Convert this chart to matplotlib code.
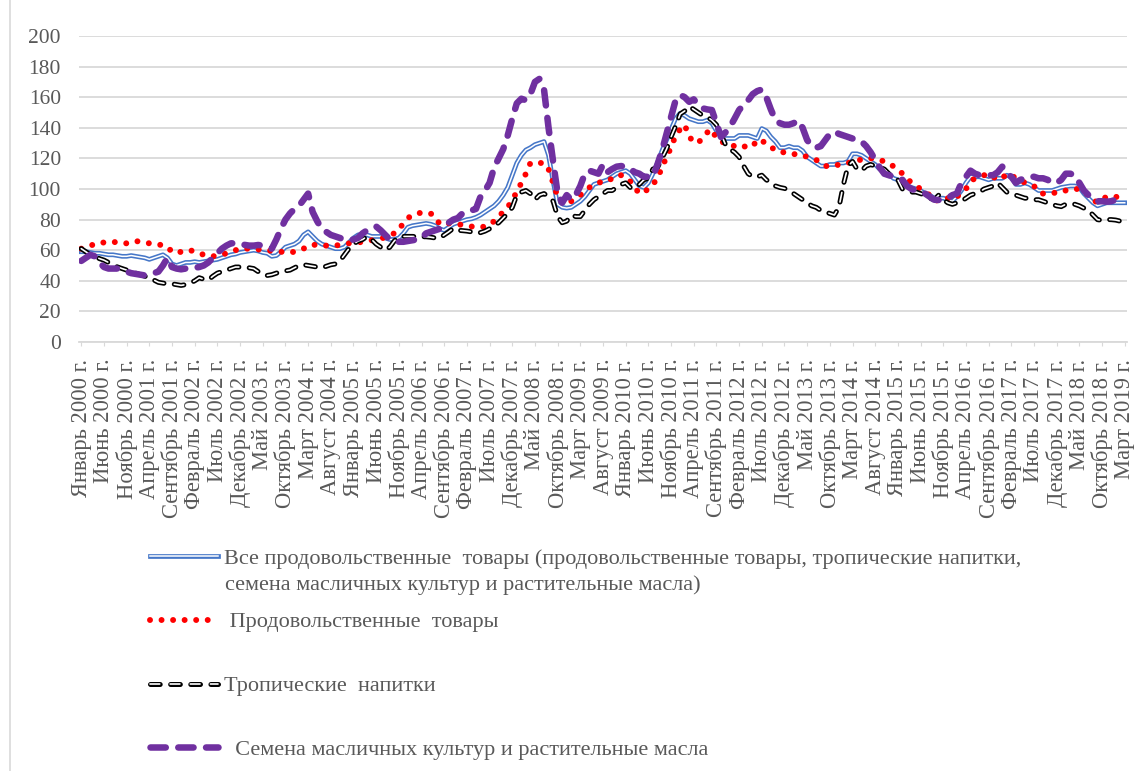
import matplotlib
matplotlib.use("Agg")
from matplotlib import pyplot as plt
import numpy as np

plt.rcParams['font.family'] = ['Liberation Serif', 'DejaVu Serif']
plt.rcParams['lines.scale_dashes'] = False

# monthly index values, Jan 2000 .. Mar 2019
all_food = [
	59, 59, 58.5, 58, 58, 57.5, 57, 57, 56.5, 56, 56, 56.5,
	56, 55.5, 55, 54, 55, 56, 57, 55, 51, 50, 51, 52,
	52, 52.5, 52, 52.5, 53, 53.5, 54, 55, 56, 57, 57.5, 58.5,
	59, 59.5, 60, 59.5, 58.5, 58, 56, 56.5, 59, 62, 63, 64,
	66, 70, 72, 69, 66, 64, 63, 62, 61, 61, 62, 65,
	68, 70, 70.5, 70, 69, 69, 69, 68, 67, 67, 68, 71,
	75, 76, 76.5, 77, 77.5, 77, 76, 74, 73, 75, 77, 78,
	79, 80, 80.5, 81.5, 83, 85, 87, 89, 92, 96, 101, 109,
	117, 122, 125.5, 127, 129, 130, 131, 122, 105, 90, 88, 87.5,
	88, 90, 92, 95, 99, 103, 104, 105, 106, 108, 110, 111,
	112, 110, 106, 102, 101, 104, 110, 117, 125, 132, 139, 146,
	149.5, 148, 146, 145, 144, 144, 145, 143, 138, 135, 133, 133,
	133, 135, 135, 135, 134, 133, 139.5, 138, 134, 131, 127, 127,
	128, 127, 127, 125, 121, 119, 117, 115, 115, 116, 116, 117,
	117, 118, 123, 123, 122, 120, 118, 116, 113, 112, 110, 107,
	106, 104, 102, 101, 100, 99, 97, 96, 94, 94, 94, 93,
	92, 95, 99, 104, 108, 108, 108, 107, 106, 107, 107, 107,
	109, 108, 103, 103, 104, 103, 101, 99, 99, 99, 99, 100,
	101, 101.5, 102, 102, 101, 97, 94, 91, 89, 90, 91, 91,
	91, 91, 91,
]
food = [
	61, 62, 63, 64, 65, 65, 65.5, 65.5, 65, 64.5, 64.5, 65,
	66, 65.5, 65, 64.5, 64, 63.5, 63.5, 62, 59, 58, 59, 60,
	60, 59, 58, 57, 56, 56, 56.5, 57, 58, 59, 60, 61,
	61, 61, 60.5, 60.5, 60, 60, 59.5, 59, 59, 58.5, 58.5, 59,
	60, 61, 63, 63.5, 63.5, 63, 63, 62.5, 63, 63.5, 64, 64.5,
	65, 65, 65.5, 66, 66.5, 67, 67.5, 68.5, 70, 71, 73, 78,
	81, 83, 84, 84.5, 84.5, 84, 82, 77, 77, 77.5, 77.5, 77,
	76.5, 76, 75.5, 75, 75, 75.5, 76.5, 79, 82, 85, 88, 93,
	98, 104, 110, 117, 117, 117, 117, 113, 104, 95, 91, 90,
	92, 94, 96, 99, 101, 103, 104, 105, 105, 107, 109, 109,
	108, 105, 101, 97, 98, 100, 103, 107, 114, 121, 127, 135,
	139, 142, 134, 131, 130, 134, 137, 139, 133, 131, 130, 129,
	128, 129, 128, 127, 128, 132, 132, 129, 127, 126, 124, 124,
	123, 123, 122, 122, 121, 120, 119, 117, 115, 115, 115, 116,
	117, 117, 118, 119, 119, 120, 120, 120, 119, 118, 116, 115,
	113, 110, 107, 104, 102, 100, 98, 96, 92, 93, 94, 94,
	93, 95, 97, 100, 105, 107, 108, 109, 110, 108, 106, 107,
	110, 109, 107, 106, 104, 103, 102, 98, 97, 97, 97, 98,
	99, 99, 100, 100, 100, 98, 96, 93, 91, 93, 95, 95,
	95, 94, 93,
]
beverages = [
	61, 59, 57, 56, 54.5, 53.5, 52, 50.5, 49, 48, 47, 46.5,
	45, 44, 43, 42, 40.5, 39, 38.5, 38, 38, 37.5, 37, 37.5,
	38.5, 40, 42, 41, 40.5, 43, 45, 46, 47, 48, 49, 49,
	49, 48.5, 48, 46, 44, 43.5, 44, 45, 46, 46.5, 47, 48.5,
	50, 50.5, 50, 49.5, 49, 48.5, 49.5, 50.5, 51, 53, 57, 61,
	64, 66, 67, 69, 67, 64, 62, 60, 62, 66, 69, 69,
	69, 69, 68.8, 68.8, 68.8, 68.5, 68, 67.8, 70, 72, 74.3, 73,
	72.8, 72.5, 72, 71, 71.5, 72.5, 74, 76, 78, 81, 84, 88,
	96, 98, 99, 97, 93, 96, 97, 95, 92, 82, 78, 79,
	83, 82, 82, 86, 90, 93, 95, 97, 99, 99, 101, 103,
	104, 101, 100.5, 103, 106, 107, 113, 114, 120, 126, 134, 141,
	149, 151, 154, 152, 150, 148, 147, 145, 142, 136, 129, 126,
	124, 121, 115, 110, 108, 108, 109, 106, 104, 102, 101, 100.4,
	99, 97, 95, 93, 91, 89, 88, 86, 85, 84, 83, 88,
	103, 115, 118, 113, 112, 115, 116, 115, 114, 113, 110, 107,
	106, 100, 99, 98, 98, 97, 96, 94, 93, 96, 93, 91,
	90, 91, 92, 94, 96, 97, 98, 100, 101, 102, 104, 101,
	98, 97, 96, 95, 94, 94, 93, 93, 92, 91, 90, 89,
	88.5, 90, 90.5, 90, 89, 87.5, 86, 83, 80, 79.5, 80, 80,
	79.7, 79, 78.6,
]
oils = [
	53, 55, 57, 56, 52, 49, 48, 48, 48, 47, 46, 45,
	44.5, 44, 43.5, 44, 45, 46, 50, 55, 49, 48, 47.5, 48,
	48.5, 48.5, 49, 50, 52, 55, 58, 61, 63, 64.5, 64.5, 64.5,
	63.5, 63, 63, 63.4, 63, 62, 61, 67, 74, 80, 84, 87,
	89, 93, 97, 85, 79, 74, 72, 70, 69, 68, 67, 66.5,
	67, 68, 71, 73, 74, 75.5, 73, 70, 67, 66, 65.5, 65.5,
	66, 66.5, 67, 68, 71, 72, 73, 74, 75, 78, 80, 81,
	84, 85.5, 86, 87, 95, 99, 104, 114, 120, 126, 135, 146,
	156, 159, 158, 162, 170, 172, 165, 140, 118, 97, 91, 96,
	93, 96, 102, 110, 112, 111, 110, 116, 111, 113, 114.6, 115,
	114.6, 113, 111, 110, 108, 108, 108, 116, 125, 136, 147, 158,
	161.5, 160, 157, 158.6, 155, 152.7, 152, 151.6, 143, 134, 137, 140.7,
	146, 151.6, 155, 158, 162, 164, 165, 160, 152, 145, 143, 142,
	142, 143, 144.8, 140, 132, 128, 127, 128, 132, 136, 137.5, 136,
	135, 134, 133, 132.5, 131, 128, 124, 119, 114, 110, 109, 108,
	107, 106, 102, 100, 99, 98, 97, 95, 93, 92.8, 93, 94,
	96, 97, 104, 108, 112, 110, 109, 109, 109, 109, 111, 114.6,
	110, 108, 104, 106, 107, 108, 108, 107, 107, 106, 104, 104,
	106, 110, 110, 109, 104, 99, 96, 93, 92, 92, 91.7, 92,
	93, 92.5, 92,
]

months = ["Январь", "Февраль", "Март", "Апрель", "Май", "Июнь", "Июль",
	"Август", "Сентябрь", "Октябрь", "Ноябрь", "Декабрь"]
first_year = 2000
label_step = 5

names = [
	"Все продовольственные  товары (продовольственные товары, тропические напитки,",
	" Продовольственные  товары",
	"Тропические  напитки",
	"  Семена масличных культур и растительные масла",
]
name_cont = "семена масличных культур и растительные масла)"

GRAY = "#595959"
GRID = "#D9D9D9"

x = np.arange(len(all_food))

fig = plt.figure(figsize=(11.4, 7.71), dpi=100)
ax = fig.add_axes([79/1140, 1 - 342/771, (1127 - 79)/1140, (342 - 36)/771])

b1, = ax.plot(x, all_food, color="#4677C8", lw=3.4, solid_joinstyle="round", zorder=3)
b2, = ax.plot(x, all_food, color="white", lw=1.1, solid_joinstyle="round", zorder=3)
r1, = ax.plot(x, food, color="#FF0000", lw=4.3, dashes=(0.01, 8.3),
	dash_capstyle="round", zorder=4)
k1, = ax.plot(x, beverages, color="black", lw=3.6, dashes=(7, 7.5),
	dash_capstyle="round", dash_joinstyle="round", zorder=5)
k2, = ax.plot(x, beverages, color="white", lw=1.2, dashes=(7, 7.5),
	dash_capstyle="round", dash_joinstyle="round", zorder=5)
p1, = ax.plot(x, oils, color="#7030A0", lw=4.7, dashes=(11, 9),
	dash_capstyle="round", dash_joinstyle="round", zorder=6)

ax.set_xlim(-0.5, len(x) - 0.5)
ax.set_ylim(0, 200)
ax.set_yticks(np.arange(0, 201, 20))
ax.grid(axis="y", color=GRID, lw=1.3)
ax.set_axisbelow(True)
for s in ["top", "right", "left"]:
	ax.spines[s].set_visible(False)
ax.spines["bottom"].set_color(GRID)
ax.spines["bottom"].set_linewidth(1.3)

ticks = x[::label_step]
ax.set_xticks(ticks)
ax.set_xticklabels(["%s %d г." % (months[i % 12], first_year + i // 12) for i in ticks],
	rotation=90)
ax.tick_params(axis="x", length=3, color=GRID, pad=9, labelsize=16.3, labelcolor=GRAY)
ax.tick_params(axis="y", length=0, pad=13, labelsize=15.5, labelcolor=GRAY)

leg = ax.legend([(b1, b2), r1, (k1, k2), p1], names,
	loc="upper left", bbox_to_anchor=(150/1140, 1 - 548/771),
	bbox_transform=fig.transFigure, frameon=False, fontsize=16,
	handlelength=3.05, handletextpad=0.3, labelspacing=1.95, borderpad=0,
	borderaxespad=0)
for t in leg.get_texts():
	t.set_color(GRAY)
fig.text(225/1140, 1 - 585/771, name_cont, fontsize=16, color=GRAY, va="center")

# thin chart border on the left
fig.add_artist(plt.Line2D([10.5/1140, 10.5/1140], [0, 1], color=GRID, lw=1.2))

fig.savefig("out.png", dpi=100)
